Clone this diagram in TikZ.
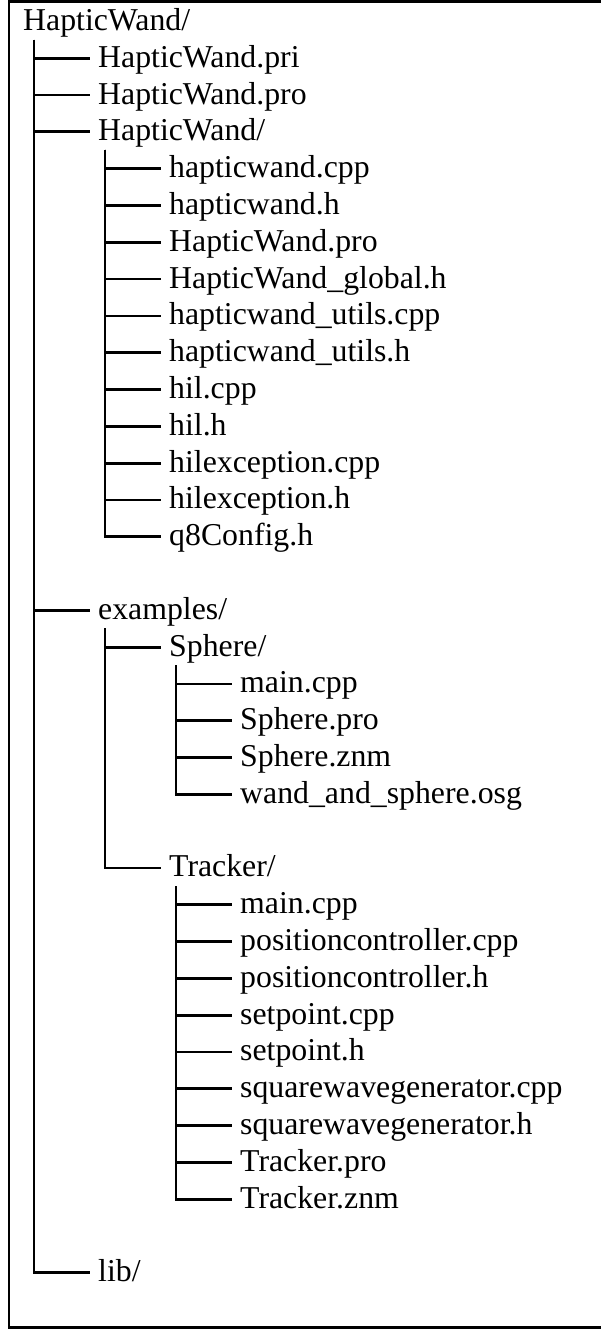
\documentclass[tikz,border=0pt]{standalone}
\usepackage{fontspec}
\setmainfont{Liberation Serif}
% #1 name, #2 trunk x, #3 connector y, #4 label, #5 trunk top
\newcommand\leaf[5]{%
  \coordinate (#1-j) at (#2+56,#3);
  \node[entry] (#1) at (#2+64,#3+9) {#4};
  \draw[branch] (#5) |- (#1-j);}
\begin{document}
\begin{tikzpicture}[x=1pt,y=-1pt,
  entry/.style={anchor=base west, inner sep=0pt, font=\fontsize{31.8}{32}\selectfont},
  branch/.style={line width=2.8pt, line join=miter},
  frame/.style={line width=2.2pt}]
\useasboundingbox (0,0) rectangle (600,1329);
\draw[frame] (603,1.5) -- (8.7,1.5) -- (8.7,1327.4) -- (603,1327.4);

% root
\node[entry] (root) at (23,31) {HapticWand/};
\coordinate (t0) at (34,40);
\leaf{pri}{34}{58.3}{HapticWand.pri}{t0}
\leaf{pro}{34}{95.1}{HapticWand.pro}{t0}
\leaf{hw}{34}{131.9}{HapticWand/}{t0}
\leaf{ex}{34}{610.3}{examples/}{t0}
\leaf{lib}{34}{1272.3}{lib/}{t0}

% HapticWand/ sources
\coordinate (t1) at (105,150);
\leaf{a1}{105}{168.7}{hapticwand.cpp}{t1}
\leaf{a2}{105}{205.5}{hapticwand.h}{t1}
\leaf{a3}{105}{242.3}{HapticWand.pro}{t1}
\leaf{a4}{105}{279.1}{HapticWand\_global.h}{t1}
\leaf{a5}{105}{315.9}{hapticwand\_utils.cpp}{t1}
\leaf{a6}{105}{352.7}{hapticwand\_utils.h}{t1}
\leaf{a7}{105}{389.5}{hil.cpp}{t1}
\leaf{a8}{105}{426.3}{hil.h}{t1}
\leaf{a9}{105}{463.1}{hilexception.cpp}{t1}
\leaf{a10}{105}{499.9}{hilexception.h}{t1}
\leaf{a11}{105}{536.7}{q8Config.h}{t1}

% examples/
\coordinate (t2) at (105,628);
\leaf{sph}{105}{647.1}{Sphere/}{t2}
\leaf{trk}{105}{867.9}{Tracker/}{t2}

% Sphere/
\coordinate (t3) at (176,665);
\leaf{s1}{176}{683.9}{main.cpp}{t3}
\leaf{s2}{176}{720.7}{Sphere.pro}{t3}
\leaf{s3}{176}{757.5}{Sphere.znm}{t3}
\leaf{s4}{176}{794.3}{wand\_and\_sphere.osg}{t3}

% Tracker/
\coordinate (t4) at (176,886);
\leaf{r1}{176}{904.7}{main.cpp}{t4}
\leaf{r2}{176}{941.5}{positioncontroller.cpp}{t4}
\leaf{r3}{176}{978.3}{positioncontroller.h}{t4}
\leaf{r4}{176}{1015.1}{setpoint.cpp}{t4}
\leaf{r5}{176}{1051.9}{setpoint.h}{t4}
\leaf{r6}{176}{1088.7}{squarewavegenerator.cpp}{t4}
\leaf{r7}{176}{1125.5}{squarewavegenerator.h}{t4}
\leaf{r8}{176}{1162.3}{Tracker.pro}{t4}
\leaf{r9}{176}{1199.1}{Tracker.znm}{t4}
\end{tikzpicture}
\end{document}
